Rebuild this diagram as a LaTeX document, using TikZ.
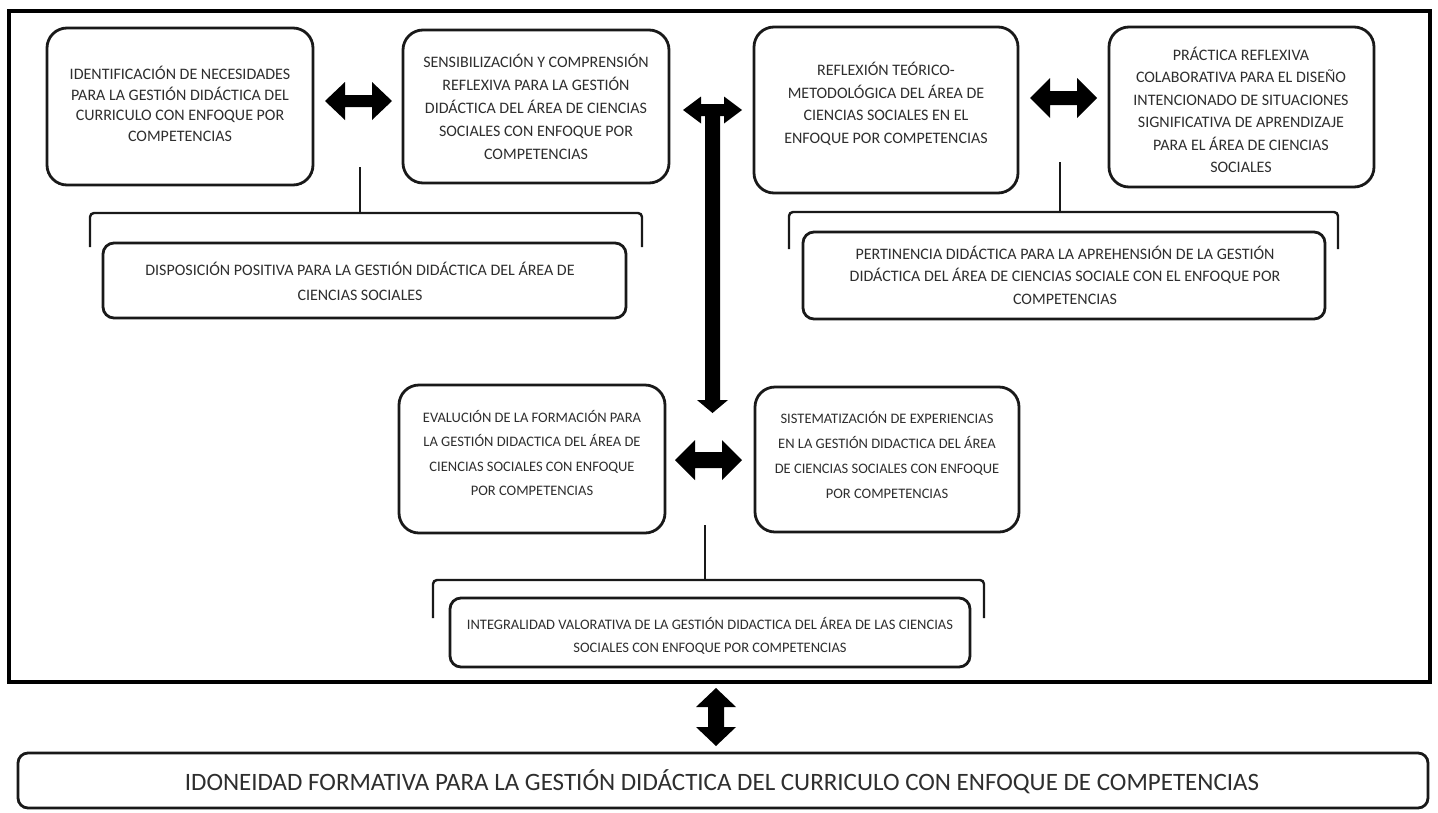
\documentclass[tikz,border=0pt]{standalone}
\usepackage{fontspec}
\setmainfont{Carlito}
\newcommand{\HDArrow}[5]{% center, half length, head length, head half width, shaft half width
  \fill[black,shift={(#1)}] (-#2,0) -- ({-#2+#3},-#4) -- ({-#2+#3},-#5) -- ({#2-#3},-#5) -- ({#2-#3},-#4)
    -- (#2,0) -- ({#2-#3},#4) -- ({#2-#3},#5) -- ({-#2+#3},#5) -- ({-#2+#3},#4) -- cycle;}
\newcommand{\VDArrow}[5]{%
  \fill[black,shift={(#1)}] (0,-#2) -- (-#4,{-#2+#3}) -- (-#5,{-#2+#3}) -- (-#5,{#2-#3}) -- (-#4,{#2-#3})
    -- (0,#2) -- (#4,{#2-#3}) -- (#5,{#2-#3}) -- (#5,{-#2+#3}) -- (#4,{-#2+#3}) -- cycle;}
\begin{document}
\begin{tikzpicture}[x=1pt,y=-1pt,
  box/.style={draw=black!90,line width=2.8pt,rounded corners=20pt,inner sep=0pt},
  sbox/.style={draw=black!90,line width=2.8pt,rounded corners=11pt,inner sep=0pt},
  txt/.style={align=center,text=black!82,inner sep=0pt},
  big/.style={font=\fontsize{16}{#1}\selectfont},
  small/.style={font=\fontsize{14.5}{#1}\selectfont},
  brace/.style={draw=black!90,line width=2.4pt,rounded corners=4pt}]
\useasboundingbox (0,0) rectangle (1438,812);
\fill[white] (0,0) rectangle (1438,812);
% outer frame
\node[draw=black,line width=4pt,minimum width=1421pt,minimum height=671pt,inner sep=0pt] (frame) at (719.5,346.5) {};
% boxes
\node[box,minimum width=266pt,minimum height=157pt] (A) at (180,106.5) {};
\node[box,minimum width=266pt,minimum height=153pt] (B) at (536,106.5) {};
\node[box,minimum width=264pt,minimum height=166pt] (C) at (886,110) {};
\node[box,minimum width=265pt,minimum height=160pt] (D) at (1241.5,107) {};
\node[sbox,minimum width=523pt,minimum height=75pt] (E) at (364.5,280.5) {};
\node[sbox,minimum width=522pt,minimum height=87pt] (F) at (1064,275.5) {};
\node[box,minimum width=266pt,minimum height=148pt] (G) at (532,459) {};
\node[box,minimum width=264pt,minimum height=145pt] (H) at (887,459.5) {};
\node[sbox,minimum width=520pt,minimum height=69pt] (I) at (710,632.5) {};
\node[sbox,rounded corners=10pt,minimum width=1410pt,minimum height=55pt] (J) at (723,780.5) {};
% texts
\node[txt,big=20.5] (At) at (180,104) {IDENTIFICACIÓN DE NECESIDADES\\PARA LA GESTIÓN DIDÁCTICA DEL\\CURRICULO CON ENFOQUE POR\\COMPETENCIAS};
\node[txt,big=23] (Bt) at (536,107) {SENSIBILIZACIÓN Y COMPRENSIÓN\\REFLEXIVA PARA LA GESTIÓN\\DIDÁCTICA DEL ÁREA DE CIENCIAS\\SOCIALES CON ENFOQUE POR\\COMPETENCIAS};
\node[txt,big=22.5] (Ct) at (886,104) {REFLEXIÓN TEÓRICO-\\METODOLÓGICA DEL ÁREA DE\\CIENCIAS SOCIALES EN EL\\ENFOQUE POR COMPETENCIAS};
\node[txt,big=22.5] (Dt) at (1241,110) {PRÁCTICA REFLEXIVA\\COLABORATIVA PARA EL DISEÑO\\INTENCIONADO DE SITUACIONES\\SIGNIFICATIVA DE APRENDIZAJE\\PARA EL ÁREA DE CIENCIAS\\SOCIALES};
\node[txt,big=25] (Et) at (360,281) {DISPOSICIÓN POSITIVA PARA LA GESTIÓN DIDÁCTICA DEL ÁREA DE\\CIENCIAS SOCIALES};
\node[txt,big=22.5] (Ft) at (1065,275) {PERTINENCIA DIDÁCTICA PARA LA APREHENSIÓN DE LA GESTIÓN\\DIDÁCTICA DEL ÁREA DE CIENCIAS SOCIALE CON EL ENFOQUE POR\\COMPETENCIAS};
\node[txt,small=24.5] (Gt) at (532,453) {EVALUCIÓN DE LA FORMACIÓN PARA\\LA GESTIÓN DIDACTICA DEL ÁREA DE\\CIENCIAS SOCIALES CON ENFOQUE\\POR COMPETENCIAS};
\node[txt,small=25] (Ht) at (887,455) {SISTEMATIZACIÓN DE EXPERIENCIAS\\EN LA GESTIÓN DIDACTICA DEL ÁREA\\DE CIENCIAS SOCIALES CON ENFOQUE\\POR COMPETENCIAS};
\node[txt,small=23] (It) at (710,636) {INTEGRALIDAD VALORATIVA DE LA GESTIÓN DIDACTICA DEL ÁREA DE LAS CIENCIAS\\SOCIALES CON ENFOQUE POR COMPETENCIAS};
\node[txt,font=\fontsize{25}{30}\selectfont] (Jt) at (722,782) {IDONEIDAD FORMATIVA PARA LA GESTIÓN DIDÁCTICA DEL CURRICULO CON ENFOQUE DE COMPETENCIAS};
% braces
\draw[brace] (90,247) -- (90,213) -- (642,213) -- (642,247);
\draw[brace] (360,167) -- (360,213);
\draw[brace] (789,249) -- (789,212) -- (1338,212) -- (1338,249);
\draw[brace] (1060,162) -- (1060,212);
\draw[brace] (433,618) -- (433,580) -- (984,580) -- (984,618);
\draw[brace] (705,525) -- (705,580);
% block arrows
\coordinate (ab) at (358.5,101);
\coordinate (cd) at (1063.5,98);
\coordinate (gh) at (708.5,460);
\coordinate (tt) at (712.5,110);
\coordinate (fj) at (716,717);
\HDArrow{ab}{33.5}{20}{19}{6}
\HDArrow{cd}{33.5}{20}{20}{7}
\HDArrow{gh}{33.5}{20}{20}{8}
\HDArrow{tt}{29.5}{18}{13.5}{6}
\fill[black] (705,110) -- (720,110) -- (720,400) -- (728,400) -- (712.5,413) -- (697,400) -- (705,400) -- cycle;
\VDArrow{fj}{29}{19}{20}{8}
\end{tikzpicture}
\end{document}
